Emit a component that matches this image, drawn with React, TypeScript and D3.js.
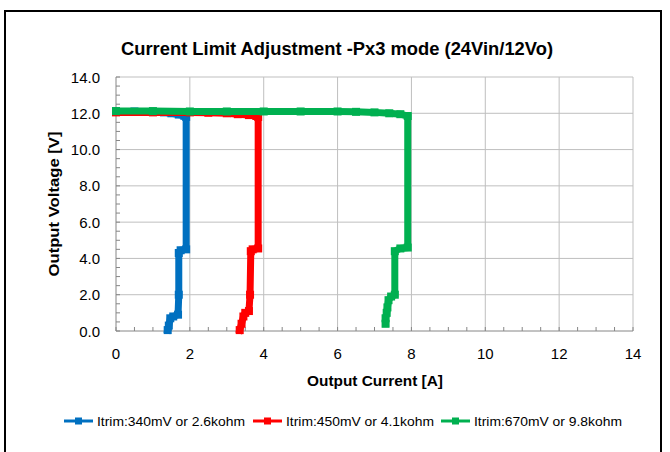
import * as d3 from "d3";

type Pt = [number, number];

const title = "Current Limit Adjustment -Px3 mode (24Vin/12Vo)";
const xLabel = "Output Current [A]";
const yLabel = "Output Voltage [V]";
const xTicks = [0, 2, 4, 6, 8, 10, 12, 14];
const yTicks = [0, 2, 4, 6, 8, 10, 12, 14];

const seriesNames = [
  "Itrim:340mV or 2.6kohm",
  "Itrim:450mV or 4.1kohm",
  "Itrim:670mV or 9.8kohm",
];
const seriesColors = ["#0070c0", "#ff0000", "#00b050"];

// current [A], voltage [V]
const blue: Pt[] = [
  [0, 12.1], [0.5, 12.1], [1.0, 12.08], [1.3, 12.05], [1.5, 12.0], [1.7, 11.93],
  [1.85, 11.86], [1.9, 11.8], [1.9, 4.5], [1.75, 4.45], [1.7, 4.3],
  [1.7, 2.0], [1.68, 0.9], [1.55, 0.8], [1.47, 0.7], [1.43, 0.3], [1.4, 0.05],
];
const red: Pt[] = [
  [0, 12.05], [1, 12.05], [2, 12.05], [2.5, 12.03], [3.0, 12.0], [3.3, 11.95],
  [3.6, 11.9], [3.8, 11.85], [3.85, 11.8], [3.85, 4.55], [3.7, 4.5],
  [3.65, 4.4], [3.63, 2.0], [3.6, 1.1], [3.5, 1.0], [3.45, 0.8], [3.4, 0.4], [3.35, 0.05],
];
const green: Pt[] = [
  [0, 12.12], [1, 12.12], [2, 12.1], [3, 12.1], [4, 12.1], [5, 12.1], [6, 12.1],
  [6.5, 12.08], [7, 12.05], [7.4, 12.0], [7.7, 11.95], [7.9, 11.85],
  [7.9, 4.6], [7.7, 4.55], [7.55, 4.4], [7.55, 2.0], [7.45, 1.9], [7.38, 1.7],
  [7.35, 1.3], [7.33, 1.0], [7.3, 0.7], [7.3, 0.4],
];
const allSeries = [blue, red, green];

export default function App() {
  const width = 670;
  const height = 452;
  const plot = { left: 116, right: 633, top: 77, bottom: 331 };

  const x = d3.scaleLinear().domain([0, 14]).range([plot.left, plot.right]);
  const y = d3.scaleLinear().domain([0, 14]).range([plot.bottom, plot.top]);
  const line = d3
    .line<Pt>()
    .x((d) => x(d[0]))
    .y((d) => y(d[1]));

  const minorX = d3.range(0, 14.01, 0.5);
  const minorY = d3.range(0, 14.01, 0.5);
  const font = "Liberation Sans, Arial, sans-serif";

  const legendX = [64, 253, 441];

  return (
    <svg
      width={width}
      height={height}
      style={{ position: "absolute", left: 0, top: 0, background: "#fff" }}
      fontFamily={font}
    >
      <rect x={5} y={11} width={656} height={460} fill="#fff" stroke="#000" strokeWidth={2} />

      <text x={337} y={55} textAnchor="middle" fontSize={18} fontWeight="bold" fill="#000"
        textLength={432} lengthAdjust="spacingAndGlyphs">
        {title}
      </text>

      {/* gridlines */}
      {xTicks.slice(1).map((t) => (
        <line key={"gx" + t} x1={x(t)} x2={x(t)} y1={plot.top} y2={plot.bottom} stroke="#bfbfbf" />
      ))}
      {yTicks.slice(1).map((t) => (
        <line key={"gy" + t} x1={plot.left} x2={plot.right} y1={y(t)} y2={y(t)} stroke="#bfbfbf" />
      ))}

      {/* axes */}
      <line x1={plot.left} x2={plot.left} y1={plot.top} y2={plot.bottom} stroke="#868686" />
      <line x1={plot.left} x2={plot.right} y1={plot.bottom} y2={plot.bottom} stroke="#868686" />
      {minorX.map((t) => (
        <line key={"mx" + t} x1={x(t)} x2={x(t)} y1={plot.bottom} y2={plot.bottom - 4} stroke="#868686" />
      ))}
      {minorY.map((t) => (
        <line key={"my" + t} x1={plot.left} x2={plot.left + 4} y1={y(t)} y2={y(t)} stroke="#868686" />
      ))}

      {xTicks.map((t) => (
        <text key={"tx" + t} x={x(t)} y={plot.bottom + 28} textAnchor="middle" fontSize={15} fill="#000">
          {t}
        </text>
      ))}
      {yTicks.map((t) => (
        <text key={"ty" + t} x={plot.left - 16} y={y(t) + 5.5} textAnchor="end" fontSize={15} fill="#000">
          {t.toFixed(1)}
        </text>
      ))}

      <text x={375} y={386} textAnchor="middle" fontSize={15} fontWeight="bold" fill="#000"
        textLength={136} lengthAdjust="spacingAndGlyphs">
        {xLabel}
      </text>
      <text
        transform={`translate(59,${(plot.top + plot.bottom) / 2}) rotate(-90)`}
        textAnchor="middle"
        fontSize={15}
        fontWeight="bold"
        fill="#000"
        textLength={145}
        lengthAdjust="spacingAndGlyphs"
      >
        {yLabel}
      </text>

      {/* series */}
      {allSeries.map((s, i) => (
        <g key={"s" + i}>
          <path d={line(s) ?? ""} fill="none" stroke={seriesColors[i]} strokeWidth={7} strokeLinejoin="miter" strokeLinecap="square" />
          {s.map((d, j) => (
            <rect key={j} x={x(d[0]) - 4} y={y(d[1]) - 4} width={8} height={8} fill={seriesColors[i]} />
          ))}
        </g>
      ))}

      {/* legend */}
      {seriesNames.map((n, i) => (
        <g key={"l" + i} transform={`translate(${legendX[i]},421)`}>
          <line x1={0} x2={29} y1={0} y2={0} stroke={seriesColors[i]} strokeWidth={3} />
          <rect x={11} y={-3.5} width={7} height={7} fill={seriesColors[i]} />
          <text x={33} y={4.5} fontSize={13.5} fill="#000" textLength={148} lengthAdjust="spacingAndGlyphs">
            {n}
          </text>
        </g>
      ))}
    </svg>
  );
}
